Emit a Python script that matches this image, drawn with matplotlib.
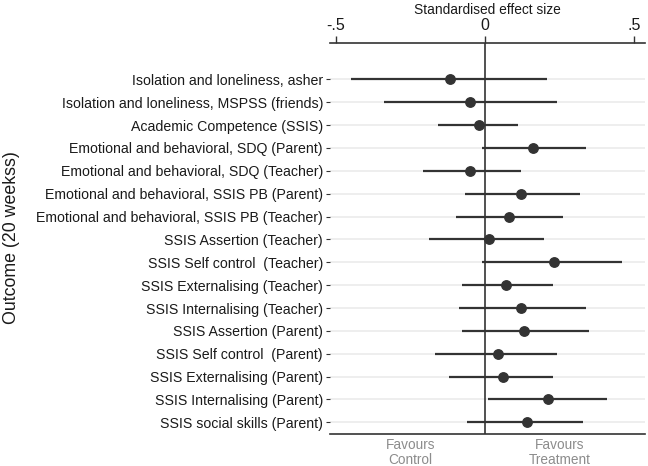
import matplotlib
matplotlib.use("Agg")
import matplotlib.pyplot as plt

outcomes = [
    "Isolation and loneliness, asher",
    "Isolation and loneliness, MSPSS (friends)",
    "Academic Competence (SSIS)",
    "Emotional and behavioral, SDQ (Parent)",
    "Emotional and behavioral, SDQ (Teacher)",
    "Emotional and behavioral, SSIS PB (Parent)",
    "Emotional and behavioral, SSIS PB (Teacher)",
    "SSIS Assertion (Teacher)",
    "SSIS Self control  (Teacher)",
    "SSIS Externalising (Teacher)",
    "SSIS Internalising (Teacher)",
    "SSIS Assertion (Parent)",
    "SSIS Self control  (Parent)",
    "SSIS Externalising (Parent)",
    "SSIS Internalising (Parent)",
    "SSIS social skills (Parent)",
]
effect = [-0.117, -0.048, -0.018, 0.162, -0.048, 0.121, 0.083, 0.013,
          0.233, 0.072, 0.121, 0.132, 0.043, 0.062, 0.213, 0.143]
ci_low = [-0.45, -0.339, -0.158, -0.008, -0.208, -0.068, -0.097, -0.188,
          -0.008, -0.077, -0.087, -0.077, -0.167, -0.120, 0.011, -0.059]
ci_high = [0.21, 0.242, 0.111, 0.341, 0.121, 0.321, 0.261, 0.200,
           0.462, 0.229, 0.341, 0.351, 0.242, 0.229, 0.411, 0.331]
xticks = [-0.5, 0, 0.5]
xticklabels = ["-.5", "0", ".5"]

plt.rcParams['font.family'] = ['Liberation Sans', 'DejaVu Sans']

fig = plt.figure(figsize=(6.48, 4.66), dpi=100)
ax = fig.add_axes([0.509, 0.0687, 0.486, 0.839])

dark = "#333333"
ypos = list(range(1, len(outcomes) + 1))
for y in ypos:
    ax.axhline(y, color="#ebebeb", lw=1.2, zorder=0)
ax.axvline(0, color=dark, lw=1.2, zorder=1)
ax.hlines(ypos, ci_low, ci_high, color=dark, lw=1.6, zorder=2)
ax.plot(effect, ypos, "o", color=dark, ms=6.8, zorder=3)

ax.set_xlim(-0.52, 0.537)
ax.set_ylim(16.51, -0.59)
ax.set_yticks(ypos)
ax.set_yticklabels(outcomes, fontsize=10.2, color="#1a1a1a")
ax.tick_params(axis="y", length=3, width=0.8, color=dark, pad=2)

ax.xaxis.tick_top()
ax.xaxis.set_label_position("top")
ax.set_xticks(xticks)
ax.set_xticklabels(xticklabels, fontsize=11.5, color="#1a1a1a")
ax.tick_params(axis="x", length=5, width=1, color=dark, pad=2)
ax.set_xlabel("Standardised effect size", fontsize=9.9, color="#1a1a1a", labelpad=3)

for s in ["left", "right"]:
    ax.spines[s].set_visible(False)
ax.spines["top"].set_color(dark)
ax.spines["top"].set_linewidth(1.2)
ax.spines["bottom"].set_color(dark)
ax.spines["bottom"].set_linewidth(1.2)

ax.text(-0.25, 16.70, "Favours\nControl", ha="center", va="top",
        fontsize=9.8, color="#8c8c8c", linespacing=1.05)
ax.text(0.25, 16.70, "Favours\nTreatment", ha="center", va="top",
        fontsize=9.8, color="#8c8c8c", linespacing=1.05)

fig.text(0.017, 0.491, "Outcome (20 weekss)", rotation=90, ha="center", va="center",
         fontsize=12.8, color="#1a1a1a")

fig.savefig("out.png", dpi=100)
